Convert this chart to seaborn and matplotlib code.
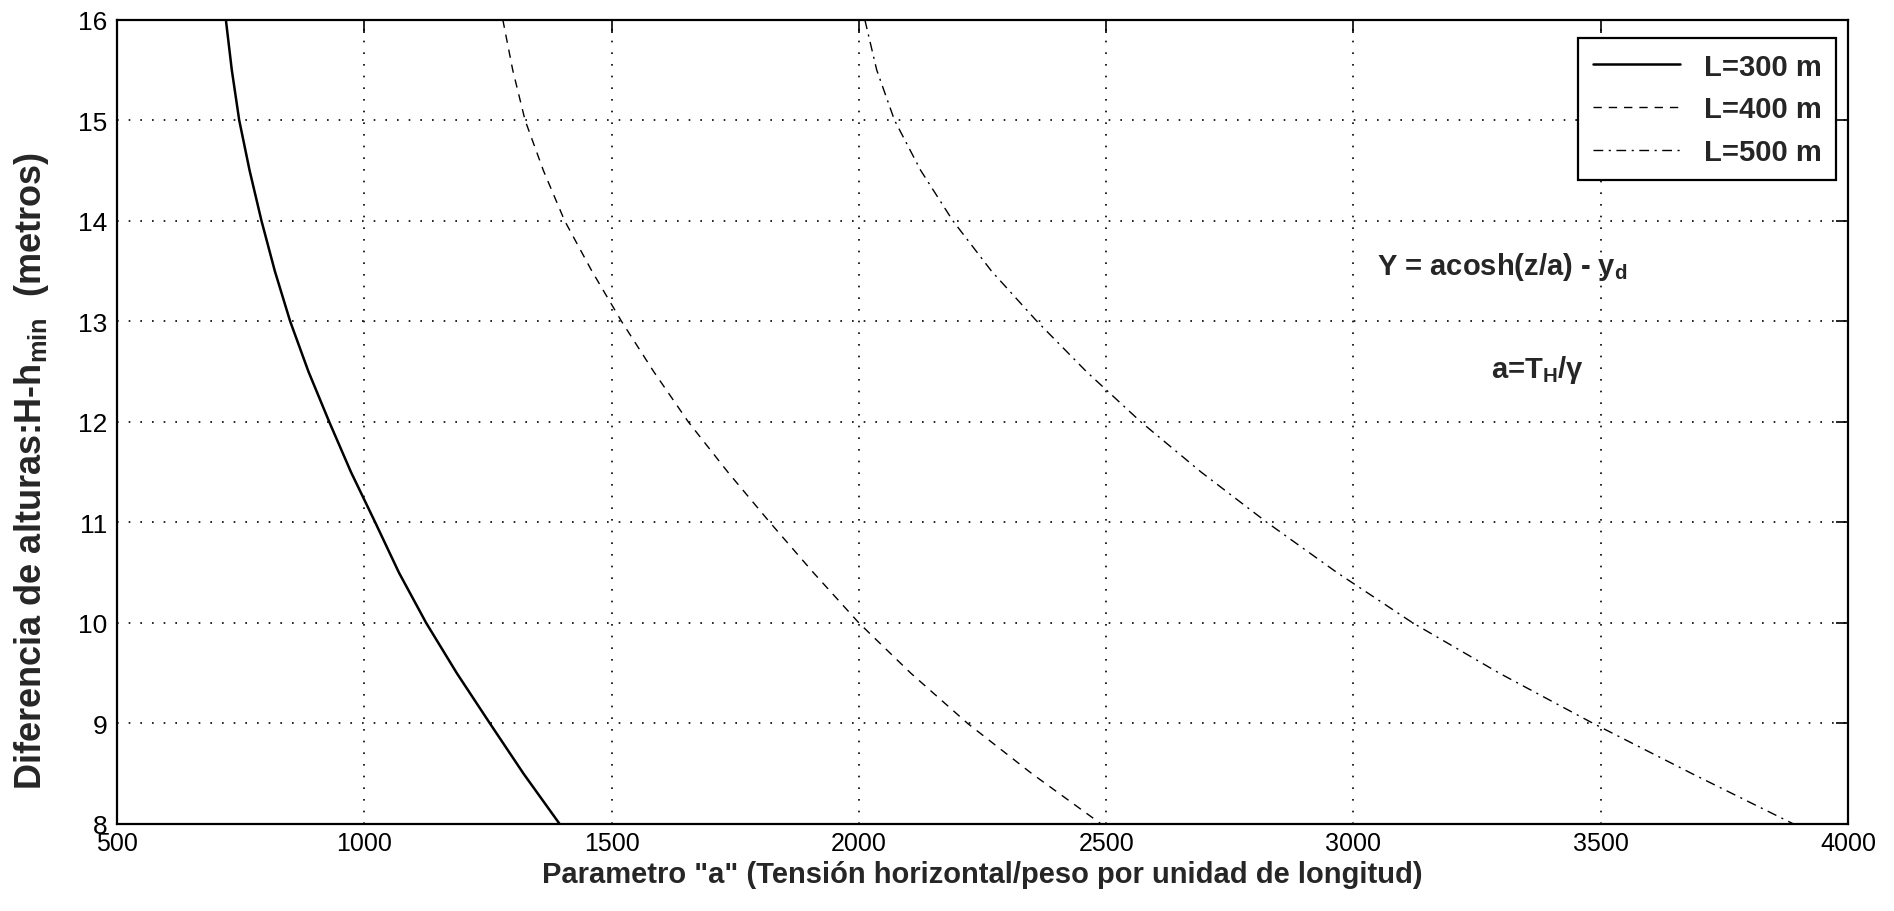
import matplotlib
matplotlib.use("Agg")
import matplotlib.pyplot as plt
import seaborn as sns
import pandas as pd

# Height difference H - h_min (m) at which each span's parameter is read
alturas = [16, 15.5, 15, 14.5, 14, 13.5, 13, 12.5, 12,
           11.5, 11, 10.5, 10, 9.5, 9, 8.5, 8]

# Catenary parameter a = T_H / gamma for each span length
a_L300 = [720, 732, 747, 768, 792, 819, 850, 887, 929,
          973, 1022, 1070, 1125, 1187, 1254, 1322, 1395]
a_L400 = [1280, 1300, 1325, 1362, 1405, 1460, 1520, 1585, 1655,
          1735, 1820, 1908, 2000, 2105, 2220, 2350, 2490]
a_L500 = [2012, 2036, 2072, 2125, 2190, 2268, 2360, 2460, 2570,
          2692, 2825, 2967, 3120, 3295, 3485, 3685, 3890]

series_labels = ["L=300 m", "L=400 m", "L=500 m"]

x_ticks = [500, 1000, 1500, 2000, 2500, 3000, 3500, 4000]
y_ticks = [8, 9, 10, 11, 12, 13, 14, 15, 16]

df = pd.concat(
    [
        pd.DataFrame({"a": vals, "h": alturas, "L": lab})
        for vals, lab in zip([a_L300, a_L400, a_L500], series_labels)
    ],
    ignore_index=True,
)

sns.set_theme(style="white")
plt.rcParams["font.family"] = ["Liberation Sans", "DejaVu Sans"]
plt.rcParams["mathtext.default"] = "regular"

fig = plt.figure(figsize=(18.94, 9.12), dpi=100)
ax = fig.add_axes([0.0618, 0.0954, 0.9139, 0.882])

palette = {lab: "black" for lab in series_labels}
dashes = {"L=300 m": "", "L=400 m": (6, 5), "L=500 m": (7, 4, 1.5, 4)}
widths = {"L=300 m": 1.8, "L=400 m": 1.0, "L=500 m": 1.0}

sns.lineplot(
    data=df, x="a", y="h", hue="L", style="L",
    palette=palette, dashes=dashes, sort=False, estimator=None,
    legend=False, ax=ax,
)
for line, lab in zip(ax.get_lines(), series_labels):
    line.set_linewidth(widths[lab])
    line.set_label(lab)

ax.set_xlim(500, 4000)
ax.set_ylim(8, 16)
ax.set_xticks(x_ticks)
ax.set_yticks(y_ticks)
ax.set_xticklabels([str(t) for t in x_ticks], fontsize=18)
ax.set_yticklabels([str(t) for t in y_ticks], fontsize=19)

ax.tick_params(direction="in", length=9, width=1.2, top=True, right=True,
               colors="black", pad=7)
ax.tick_params(axis="x", pad=5)

ax.grid(True, color="black", linestyle=(0, (1, 6)), linewidth=1.2)
for sp in ax.spines.values():
    sp.set_color("black")
    sp.set_linewidth(1.6)

ax.set_xlabel('Parametro "a" (Tensión horizontal/peso por unidad de longitud)',
              fontweight="bold", fontsize=21, labelpad=4)
ax.set_ylabel("Diferencia de alturas:H-h$_{min}$  (metros)",
              fontweight="bold", fontsize=26)
ax.yaxis.set_label_coords(-0.038, 0.44)

ax.text(0.728, 0.684, "Y = acosh(z/a) - y$_d$", transform=ax.transAxes,
        fontweight="bold", fontsize=21, va="baseline")
ax.text(0.794, 0.556, "a=T$_H$/γ", transform=ax.transAxes,
        fontweight="bold", fontsize=21, va="baseline")

leg = ax.legend(
    handles=ax.get_lines(), labels=series_labels,
    loc="upper right", bbox_to_anchor=(0.993, 0.977), borderaxespad=0,
    prop={"weight": "bold", "size": 21},
    fancybox=False, framealpha=1, edgecolor="black",
    handlelength=3.0, labelspacing=0.5, borderpad=0.5, handletextpad=0.8,
)
leg.get_frame().set_linewidth(1.6)

fig.savefig("out.png", dpi=100, facecolor="white")
